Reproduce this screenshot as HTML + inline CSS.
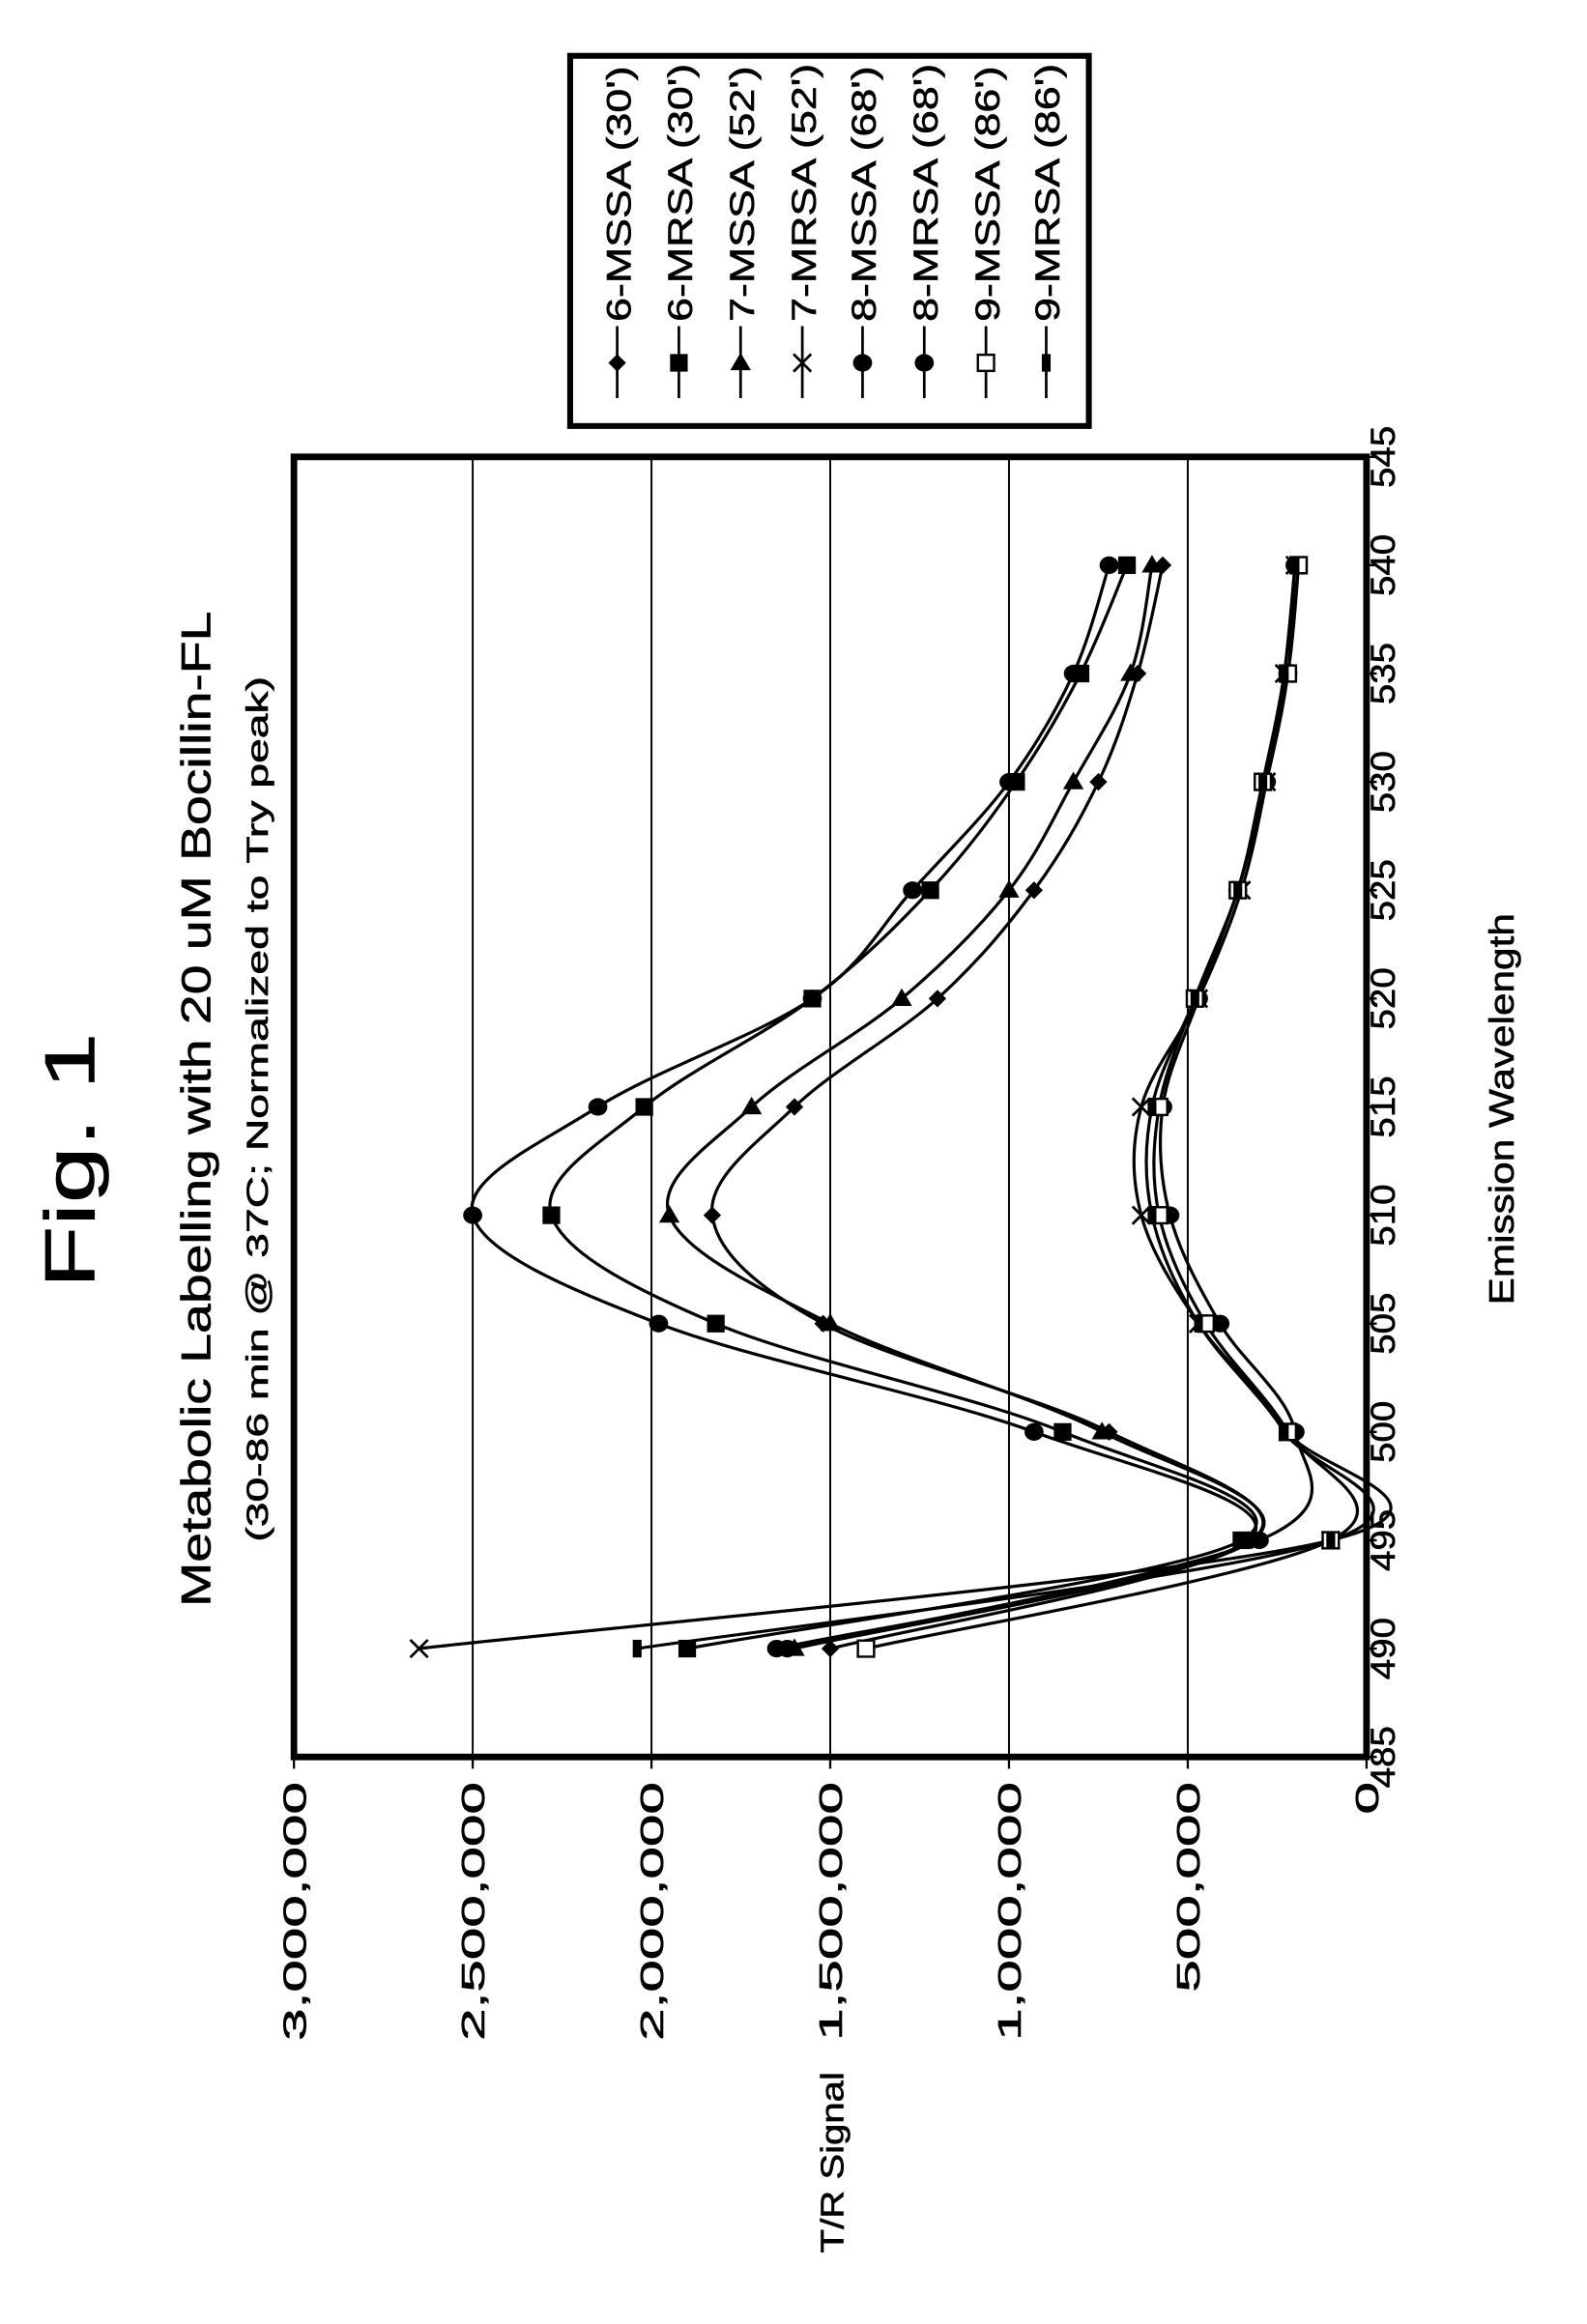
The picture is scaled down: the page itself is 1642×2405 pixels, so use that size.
<!DOCTYPE html>
<html><head><meta charset="utf-8"><style>
html,body{margin:0;padding:0;background:#fff}
svg{display:block}
text{font-family:"Liberation Sans",Arial,sans-serif;fill:#000;stroke:#000;stroke-width:0.4}
</style></head><body>
<svg id="s" width="1642" height="2405" viewBox="0 0 1080 1582" xmlns="http://www.w3.org/2000/svg">
<rect width="1080" height="1582" fill="#fff"/>
<text transform="translate(64,790) rotate(-90) scale(1.45,1)" font-size="48" text-anchor="middle">Fig. 1</text>
<text transform="translate(143,755) rotate(-90) scale(1.3,1)" font-size="28" text-anchor="middle">Metabolic Labelling with 20 uM Bocillin-FL</text>
<text transform="translate(182,755) rotate(-90) scale(1.45,1)" font-size="21" text-anchor="middle">(30-86 min @ 37C; Normalized to Try peak)</text>
<text transform="translate(1030,755) rotate(-90) scale(1.16,1)" font-size="24" text-anchor="middle">Emission Wavelength</text>
<text transform="translate(574,1472) rotate(-90) scale(1.2,1)" font-size="22" text-anchor="middle">T/R Signal</text>
<g id="grid"></g>
<g id="ticks"></g>
<g id="curves" fill="none" stroke="#000" stroke-width="2.1"></g>
<g id="marks"></g>
<rect x="200" y="311" width="730" height="885" fill="none" stroke="#000" stroke-width="4.5"/>
<rect x="388" y="38" width="353" height="252" fill="none" stroke="#000" stroke-width="4"/>
<g id="legend"></g>
</svg>
<script>
var NS="http://www.w3.org/2000/svg";
function el(p,t,a,txt){var e=document.createElementNS(NS,t);for(var k in a)e.setAttribute(k,a[k]);if(txt!=null)e.textContent=txt;document.getElementById(p).appendChild(e);return e;}
function X(v){return 930-v/3*730;}
function Y(w){return 1196-(w-485)*14.75;}
var labs=["0","500,000","1,000,000","1,500,000","2,000,000","2,500,000","3,000,000"];
for(var i=0;i<=6;i++){var x=X(i*0.5);
 if(i>0&&i<6)el("grid","line",{x1:x,y1:311,x2:x,y2:1196,stroke:"#000","stroke-width":1.3});
 el("ticks","line",{x1:x,y1:1196,x2:x,y2:1204,stroke:"#000","stroke-width":1.5});
 el("ticks","text",{transform:"translate("+(x+8)+",1213) rotate(-90) scale(1.8,1)","font-size":22,"text-anchor":"end"},labs[i]);}
for(var w=485;w<=545;w+=5){var y=Y(w);
 el("ticks","line",{x1:930,y1:y,x2:937,y2:y,stroke:"#000","stroke-width":1.5});
 el("ticks","text",{transform:"translate("+949+","+y+") rotate(-90) scale(1.1,1)","font-size":23,"text-anchor":"middle"},String(w));}
var W=[490,495,500,505,510,515,520,525,530,535,540];
var S=[
 ["d",[1.5,0.32,0.72,1.52,1.83,1.6,1.2,0.93,0.75,0.64,0.57]],
 ["s",[1.9,0.35,0.85,1.82,2.28,2.02,1.55,1.22,0.98,0.8,0.67]],
 ["t",[1.6,0.32,0.74,1.5,1.95,1.72,1.3,1.0,0.82,0.66,0.6]],
 ["x",[2.65,0.1,0.22,0.47,0.63,0.63,0.47,0.35,0.28,0.23,0.2]],
 ["c",[1.65,0.33,0.93,1.98,2.5,2.15,1.55,1.27,1.0,0.82,0.72]],
 ["c",[1.62,0.3,0.2,0.41,0.55,0.57,0.47,0.36,0.28,0.22,0.2]],
 ["o",[1.4,0.1,0.22,0.45,0.58,0.58,0.48,0.36,0.29,0.22,0.19]],
 ["b",[2.04,0.1,0.23,0.47,0.6,0.6,0.48,0.36,0.29,0.23,0.2]]];
function mark(g,k,x,y){
 if(k=="d")el(g,"polygon",{points:(x-6)+","+y+" "+x+","+(y-6)+" "+(x+6)+","+y+" "+x+","+(y+6)});
 else if(k=="s")el(g,"rect",{x:x-6,y:y-6,width:12,height:12});
 else if(k=="t")el(g,"polygon",{points:(x-7)+","+(y+5)+" "+(x+7)+","+(y+5)+" "+x+","+(y-7)});
 else if(k=="x"){el(g,"path",{d:"M"+(x-6)+","+(y-6)+"L"+(x+6)+","+(y+6)+"M"+(x+6)+","+(y-6)+"L"+(x-6)+","+(y+6),stroke:"#000","stroke-width":1.8});}
 else if(k=="c")el(g,"ellipse",{cx:x,cy:y,rx:6.5,ry:6});
 else if(k=="o")el(g,"rect",{x:x-5.5,y:y-5.5,width:11,height:11,fill:"#fff",stroke:"#000","stroke-width":1.6});
 else if(k=="b")el(g,"rect",{x:x-3,y:y-6,width:6,height:12});
}
S.forEach(function(s){
 var p=W.map(function(w,i){return [X(s[1][i]),Y(w)];});
 var d="M"+p[0][0]+","+p[0][1];
 for(var i=0;i<p.length-1;i++){var p0=p[i>0?i-1:i],p1=p[i],p2=p[i+1],p3=p[i+2<p.length?i+2:i+1];
  var t=0.17;
  d+="C"+(p1[0]+(p2[0]-p0[0])*t)+","+(p1[1]+(p2[1]-p0[1])*t)+" "+(p2[0]-(p3[0]-p1[0])*t)+","+(p2[1]-(p3[1]-p1[1])*t)+" "+p2[0]+","+p2[1];}
 el("curves","path",{d:d});
 p.forEach(function(q){mark("marks",s[0],q[0],q[1]);});
});
var L=["6-MSSA (30')","6-MRSA (30')","7-MSSA (52')","7-MRSA (52')","8-MSSA (68')","8-MRSA (68')","9-MSSA (86')","9-MRSA (86')"];
var LX=[420,462,504,546,587,629,671,712];
for(var i=0;i<8;i++){var x=LX[i];
 el("legend","line",{x1:x,y1:222,x2:x,y2:271,stroke:"#000","stroke-width":1.8});
 mark("legend",S[i][0],x,247);
 el("legend","text",{transform:"translate("+(x+9)+",219) rotate(-90) scale(1.28,1)","font-size":23},L[i]);}
</script>
</body></html>
